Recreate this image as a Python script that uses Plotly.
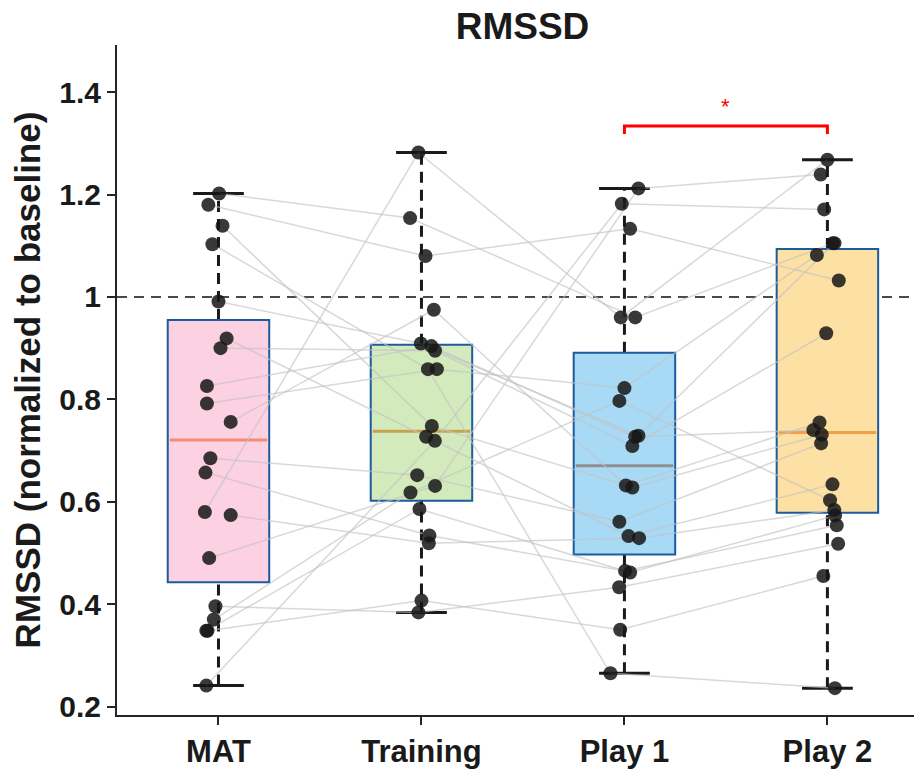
import numpy as np
import plotly.graph_objects as go

# ---------------- data ----------------
categories = ["MAT", "Training", "Play 1", "Play 2"]
y_tick_vals = [0.2, 0.4, 0.6, 0.8, 1.0, 1.2, 1.4]
y_tick_text = ["0.2", "0.4", "0.6", "0.8", "1", "1.2", "1.4"]

# one entry per subject (20 subjects), same order in every list
mat = [1.202, 1.180, 1.139, 1.103, 0.991, 0.919, 0.900, 0.826, 0.792, 0.756,
       0.685, 0.657, 0.580, 0.574, 0.490, 0.396, 0.370, 0.348, 0.348, 0.241]
training = [1.154, 1.080, 0.748, 0.859, 0.909, 0.727, 0.895, 0.904, 0.859, 0.975,
            0.652, 0.534, 1.282, 0.519, 0.631, 0.384, 0.618, 0.407, 0.586, 0.719]
play1 = [0.960, 1.133, 0.628, 0.265, 0.729, 0.533, 0.709, 0.727, 0.822, 0.632,
         0.561, 0.465, 0.960, 0.529, 1.212, 0.433, 0.797, 0.350, 0.462, 1.182]
play2 = [1.105, 1.032, 0.731, 0.236, 1.105, 0.634, 0.929, 0.740, 1.082, 0.755,
         0.714, 0.554, 1.268, 0.584, 1.239, 0.518, 0.603, 0.455, 0.573, 1.171]

# horizontal jitter of each dot
jit_mat = [0.003, -0.05, 0.02, -0.03, 0.0, 0.04, 0.01, -0.057, -0.057, 0.06,
           -0.04, -0.064, -0.067, 0.06, -0.046, -0.015, -0.023, -0.054, -0.06, -0.06]
jit_training = [-0.056, 0.02, 0.051, 0.032, -0.003, 0.023, 0.067, 0.049, 0.076, 0.061,
                -0.021, 0.039, -0.015, 0.036, 0.067, -0.015, -0.054, 0.0, -0.01, 0.066]
jit_play1 = [0.053, 0.028, 0.039, -0.069, 0.069, 0.02, 0.039, 0.053, 0.0, 0.007,
             -0.025, 0.003, -0.018, 0.072, 0.069, -0.026, -0.025, -0.021, 0.028, -0.013]
jit_play2 = [0.027, 0.056, -0.028, 0.037, 0.035, 0.025, -0.006, -0.069, -0.052, -0.039,
             -0.031, 0.046, 0.0, 0.034, -0.033, 0.053, 0.013, -0.02, 0.038, -0.016]

box_fills = ["#fcd1e2", "#d3eabd", "#a8d9f5", "#fde0a3"]
median_colors = ["#f28b76", "#c9a24c", "#8f8f8f", "#f2a043"]
edge_color = "#1d5c9c"

series = [mat, training, play1, play2]
jitters = [jit_mat, jit_training, jit_play1, jit_play2]
positions = [1, 2, 3, 4]

fig = go.Figure()
shapes = []

# ---------------- boxes (MATLAB-style) ----------------
for pos, vals, fill, mcol in zip(positions, series, box_fills, median_colors):
    v = np.array(vals)
    q1, med, q3 = np.percentile(v, [25, 50, 75], method="hazen")
    iqr = q3 - q1
    upper = v[v <= q3 + 1.5 * iqr].max()
    lower = v[v >= q1 - 1.5 * iqr].min()
    hw = 0.25
    cw = 0.125
    # whiskers (dashed)
    shapes.append(dict(type="line", xref="x", yref="y", x0=pos, x1=pos, y0=q3, y1=upper,
                       line=dict(color="#1a1a1a", width=3, dash="11px,7px"), layer="below"))
    shapes.append(dict(type="line", xref="x", yref="y", x0=pos, x1=pos, y0=lower, y1=q1,
                       line=dict(color="#1a1a1a", width=3, dash="11px,7px"), layer="below"))
    # caps
    shapes.append(dict(type="line", xref="x", yref="y", x0=pos - cw, x1=pos + cw, y0=upper, y1=upper,
                       line=dict(color="#1a1a1a", width=3), layer="below"))
    shapes.append(dict(type="line", xref="x", yref="y", x0=pos - cw, x1=pos + cw, y0=lower, y1=lower,
                       line=dict(color="#1a1a1a", width=3), layer="below"))
    # box
    shapes.append(dict(type="rect", xref="x", yref="y", x0=pos - hw, x1=pos + hw, y0=q1, y1=q3,
                       fillcolor=fill, line=dict(color=edge_color, width=2), layer="below"))
    # median
    shapes.append(dict(type="line", xref="x", yref="y", x0=pos - hw + 0.01, x1=pos + hw - 0.01,
                       y0=med, y1=med, line=dict(color=mcol, width=3), layer="below"))

# baseline reference line at 1
shapes.append(dict(type="line", xref="paper", yref="y", x0=0, x1=0.995, y0=1.0, y1=1.0,
                   line=dict(color="#4a4a4a", width=2, dash="10px,7px"), layer="below"))

# significance bracket Play 1 vs Play 2
shapes.append(dict(type="path", xref="x", yref="y",
                   path="M 3,1.318 L 3,1.334 L 4,1.334 L 4,1.318",
                   line=dict(color="#ff0000", width=3)))

# ---------------- subject lines ----------------
lx, ly = [], []
for i in range(len(mat)):
    for pos, vals, jit in zip(positions, series, jitters):
        lx.append(pos + jit[i])
        ly.append(vals[i])
    lx.append(None)
    ly.append(None)
fig.add_trace(go.Scatter(x=lx, y=ly, mode="lines",
                         line=dict(color="rgba(195,195,195,0.65)", width=1.5),
                         hoverinfo="skip", showlegend=False))

# ---------------- dots ----------------
px, py = [], []
for pos, vals, jit in zip(positions, series, jitters):
    for v, j in zip(vals, jit):
        px.append(pos + j)
        py.append(v)
fig.add_trace(go.Scatter(x=px, y=py, mode="markers",
                         marker=dict(size=14, color="rgba(22,22,22,0.85)", line=dict(width=0)),
                         showlegend=False))

fig.add_annotation(x=3.5, y=1.372, xref="x", yref="y", text="*", showarrow=False,
                   font=dict(color="#ff0000", size=22, family="Liberation Sans, Arial"))

font_family = "Liberation Sans, Arial, sans-serif"
# the page body adds an 8px offset, so the figure is 8px smaller on each side used
fig.update_layout(
    width=914, height=765,
    margin=dict(l=109, r=0, t=37, b=58, autoexpand=False),
    plot_bgcolor="white", paper_bgcolor="white",
    shapes=shapes,
    showlegend=False,
    title=dict(text="RMSSD", x=0.5 + 3 / 805, xref="paper", y=1 - 18 / 765, yref="container",
               xanchor="center", yanchor="middle",
               font=dict(family=font_family, size=37, color="#1a1a1a", weight="bold")),
    xaxis=dict(range=[0.5, 4.466], tickvals=positions, ticktext=categories, automargin=False,
               showgrid=False, zeroline=False, showline=True, linecolor="#262626", linewidth=2,
               ticks="outside", ticklen=8, tickwidth=2, tickcolor="#262626",
               tickfont=dict(family=font_family, size=31, color="#1a1a1a", weight="bold")),
    yaxis=dict(range=[0.1836, 1.492], tickvals=y_tick_vals, ticktext=y_tick_text, automargin=False,
               showgrid=False, zeroline=False, showline=True, linecolor="#262626", linewidth=2,
               ticks="outside", ticklen=8, tickwidth=2, tickcolor="#262626",
               tickfont=dict(family=font_family, size=30, color="#1a1a1a", weight="bold"),
               title=dict(text="RMSSD (normalized to baseline)", standoff=8,
                          font=dict(family=font_family, size=35, color="#1a1a1a", weight="bold"))),
)

fig.write_html("out.html")
